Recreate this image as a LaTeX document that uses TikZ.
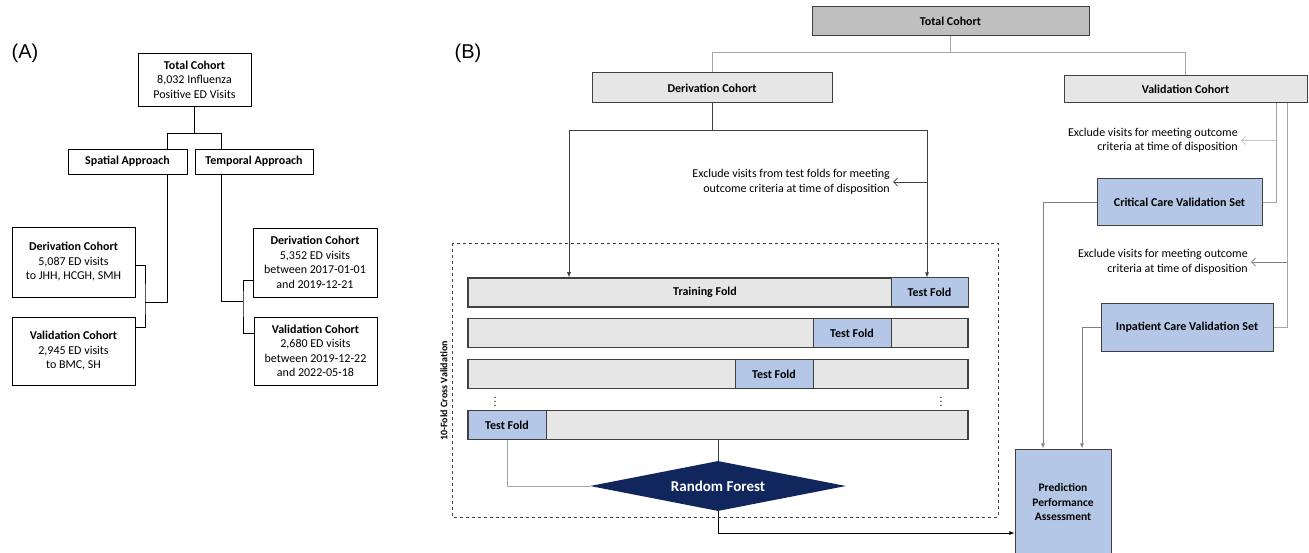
\documentclass[tikz,border=0pt]{standalone}
\usepackage{fontspec}
\setmainfont{Carlito}
\newfontfamily\panelfont{Liberation Sans}
\usetikzlibrary{shapes.geometric,arrows.meta}

\definecolor{boxgray}{RGB}{231,230,230}
\definecolor{headgray}{RGB}{191,191,191}
\definecolor{foldblue}{RGB}{180,199,231}
\definecolor{forestblue}{RGB}{16,38,92}
\definecolor{edgegray}{RGB}{64,64,64}

\begin{document}
\begin{tikzpicture}[x=1pt, y=-1pt,
  every node/.style={font=\fontsize{12}{14.5}\selectfont},
  abox/.style={rectangle, draw=black, line width=0.9pt, fill=white, align=center, inner sep=2pt},
  bbox/.style={rectangle, draw=edgegray, line width=1pt, fill=boxgray, align=center, inner sep=2pt, font=\fontsize{12}{14.5}\selectfont\bfseries},
  foldbar/.style={rectangle, draw=edgegray, line width=1.1pt, fill=boxgray, minimum width=500pt, minimum height=29pt},
  testfold/.style={bbox, fill=foldblue, minimum width=78pt, minimum height=29pt},
  note/.style={align=right, anchor=east, inner sep=3pt},
  aline/.style={draw=black, line width=0.9pt},
  line/.style={draw=edgegray, line width=0.8pt, -latex},
  gline/.style={draw=gray!70, line width=0.8pt},
  barb/.style={-{Straight Barb[length=4pt,width=8pt]}}
]
\useasboundingbox (0,0) rectangle (1309,553);

% panel A
\node [font=\panelfont\fontsize{20}{20}\selectfont] (labA) at (25,53) {(A)};
\node [abox, minimum width=113pt, minimum height=53pt] (totA) at (194.5,79.5) {\textbf{Total Cohort}\\8,032 Influenza\\Positive ED Visits};
\node [abox, minimum width=119pt, minimum height=25pt, font=\fontsize{12}{14.5}\selectfont\bfseries] (spatial) at (127.5,161.5) {Spatial Approach};
\node [abox, minimum width=118pt, minimum height=25pt, font=\fontsize{12}{14.5}\selectfont\bfseries] (temporal) at (254,161.5) {Temporal Approach};
\node [abox, minimum width=123pt, minimum height=70pt] (derA1) at (73.5,262) {\textbf{Derivation Cohort}\\5,087 ED visits\\to JHH, HCGH, SMH};
\node [abox, minimum width=123pt, minimum height=68pt] (valA1) at (73.5,351) {\textbf{Validation Cohort}\\2,945 ED visits\\to BMC, SH};
\node [abox, minimum width=124pt, minimum height=69pt] (derA2) at (315,262.5) {\textbf{Derivation Cohort}\\5,352 ED visits\\between 2017-01-01\\and 2019-12-21};
\node [abox, minimum width=123pt, minimum height=68pt] (valA2) at (315.5,351) {\textbf{Validation Cohort}\\2,680 ED visits\\between 2019-12-22\\and 2022-05-18};

\coordinate (jA) at (194.5,133);
\coordinate (brS) at (145,302);
\coordinate (brT) at (243,301);
\draw [aline] (totA.south) -- (jA) -| ([xshift=39.5pt]spatial.north);
\draw [aline] (jA) -| ([xshift=-33pt]temporal.north);
\draw [aline] ([xshift=39.5pt]spatial.south) |- (brS);
\draw [aline] ([yshift=-3pt]derA1.east) -| (brS) |- ([yshift=24pt]valA1.east);
\draw [aline] ([xshift=-33pt]temporal.south) |- (brT);
\draw [aline] ([yshift=-17.5pt]derA2.west) -| (brT) |- ([yshift=18pt]valA2.west);

% panel B
\node [font=\panelfont\fontsize{20}{20}\selectfont] (labB) at (468,53) {(B)};
\node [bbox, fill=headgray, minimum width=277pt, minimum height=29pt] (totB) at (950.5,21.5) {Total Cohort};
\node [bbox, minimum width=240pt, minimum height=30pt] (derB) at (712,88) {Derivation Cohort};
\node [bbox, minimum width=243pt, minimum height=27pt] (valB) at (1185.5,89.5) {Validation Cohort};
\draw [gline] (totB.south) -- ++(0,16) coordinate (jB) -| (derB.north);
\draw [gline] (jB) -| (valB.north);

% cross validation folds
\draw [dashed, line width=0.8pt, edgegray] (452,243) rectangle (998,517);
\node [rotate=90, font=\fontsize{10}{12}\selectfont\bfseries] (cvlabel) at (444,391) {10-Fold Cross Validation};
\node [foldbar] (row1) at (718,292.5) {};
\node [foldbar] (row2) at (718,333) {};
\node [foldbar] (row3) at (718,374) {};
\node [foldbar] (row4) at (718,425) {};
\node [font=\fontsize{12}{14.5}\selectfont\bfseries] (train) at (705,292.5) {Training Fold};
\node [testfold, minimum width=77pt] (test1) at (929.5,292.5) {Test Fold};
\node [testfold] (test2) at (852,333) {Test Fold};
\node [testfold] (test3) at (774,374) {Test Fold};
\node [testfold] (test4) at (507,425) {Test Fold};
\node [font=\fontsize{9}{9}\selectfont\bfseries] (dotsL) at (495,399) {$\vdots$};
\node [font=\fontsize{9}{9}\selectfont\bfseries] (dotsR) at (941,399) {$\vdots$};
\node [diamond, aspect=5.12, fill=forestblue, minimum width=256pt, minimum height=50pt, inner sep=0pt, text=white, font=\fontsize{15}{18}\selectfont\bfseries] (rf) at (718,486) {Random Forest};

\coordinate (splitL) at (569,130);
\coordinate (splitR) at (927,130);
\draw [draw=edgegray, line width=0.8pt] (derB.south) -- (derB.south |- splitL);
\draw [draw=edgegray, line width=0.8pt] (splitL) -- (splitR);
\draw [line] (splitL) -- (splitL |- row1.north);
\draw [line] (splitR) -- (splitR |- test1.north);
\node [note] (exclD) at (893,182) {Exclude visits from test folds for meeting\\outcome criteria at time of disposition};
\draw [draw=edgegray, line width=0.8pt, barb] (splitR |- exclD.east) -- (exclD.east);
\draw [draw=edgegray, line width=0.9pt] (row4.south) -- (rf.north);
\draw [gline] (test4.south) |- (rf.west);

% validation sets
\node [bbox, fill=foldblue, minimum width=165pt, minimum height=47pt] (critB) at (1179.5,202.5) {Critical Care Validation Set};
\node [bbox, fill=foldblue, minimum width=172pt, minimum height=47pt] (inpB) at (1187,327.5) {Inpatient Care Validation Set};
\node [bbox, fill=foldblue, minimum width=96pt, minimum height=106pt, font=\fontsize{11.5}{14.5}\selectfont\bfseries] (predB) at (1063,502) {Prediction\\Performance\\Assessment};
\node [note] (excl1) at (1241,140.5) {Exclude visits for meeting outcome\\criteria at time of disposition};
\node [note] (excl2) at (1251,262) {Exclude visits for meeting outcome\\criteria at time of disposition};

\coordinate (vA) at (1276,103);
\coordinate (vB) at (1287,103);
\draw [gline] (valB.south -| vA) |- (critB.east);
\draw [gline, draw=gray!45, barb] (vA |- excl1.east) -- (excl1.east);
\draw [gline] (valB.south -| vB) |- (inpB.east);
\draw [gline, draw=gray, barb] (vB |- excl2.east) -- (excl2.east);
\draw [line, draw=gray] (critB.west) -| ([xshift=-20pt]predB.north);
\draw [line, draw=gray] (inpB.west) -| ([xshift=19pt]predB.north);
\draw [line, draw=black] (rf.south) |- ([yshift=-31pt]predB.west);
\end{tikzpicture}
\end{document}
